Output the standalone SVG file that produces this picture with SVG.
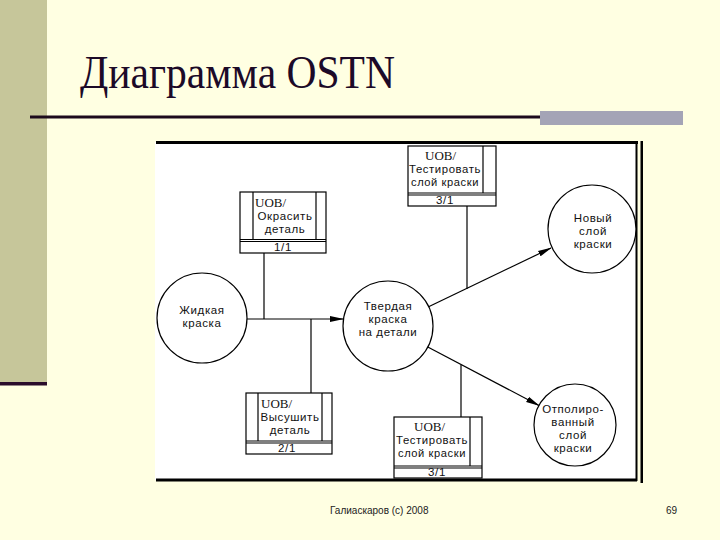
<svg xmlns="http://www.w3.org/2000/svg" width="720" height="540" viewBox="0 0 720 540">
<defs>
<marker id="ah" markerWidth="14" markerHeight="8" refX="13" refY="4" orient="auto" markerUnits="userSpaceOnUse">
<path d="M0,1 L14,4 L0,7 Z" fill="#000"/>
</marker>
<style>
.t{font-family:"Liberation Sans",Arial,sans-serif;font-size:11.5px;letter-spacing:0.6px;fill:#111;text-anchor:middle}
.u{font-family:"Liberation Serif","Times New Roman",serif;font-size:13px;fill:#111}
.box{fill:#fff;stroke:#000;stroke-width:1.2}
.ln{stroke:#000;stroke-width:1.2;fill:none}
.c{fill:#fff;stroke:#000;stroke-width:1.2}
</style>
</defs>
<rect width="720" height="540" fill="#ffffe2"/>
<rect x="0" y="0" width="47" height="382" fill="#c6c69a"/>
<rect x="0" y="382" width="47" height="3.5" fill="#2a0c2a"/>
<text x="80" y="88" font-family="'Liberation Serif','Times New Roman',serif" font-size="46" fill="#1c0a28" textLength="315" lengthAdjust="spacingAndGlyphs">Диаграмма OSTN</text>
<rect x="30" y="115.5" width="512" height="3" fill="#1c0a1c"/>
<rect x="540" y="111" width="143" height="14" fill="#a4a4b6"/>
<!-- embedded picture -->
<rect x="155" y="142" width="482" height="338" fill="#fff"/>
<rect x="156" y="141" width="482" height="3" fill="#000"/>
<rect x="156" y="478.5" width="481" height="3" fill="#000"/>
<rect x="635.5" y="141" width="2" height="340" fill="#000"/>
<rect x="640.5" y="141" width="2.5" height="342" fill="#000"/>
<g id="connectors">
<line class="ln" x1="264" y1="253" x2="264" y2="319"/>
<line class="ln" x1="247" y1="319" x2="343" y2="319" marker-end="url(#ah)"/>
<line class="ln" x1="311" y1="319" x2="311" y2="393"/>
<line class="ln" x1="467" y1="206" x2="467" y2="289"/>
<line class="ln" x1="428.6" y1="306.7" x2="551" y2="248" marker-end="url(#ah)"/>
<line class="ln" x1="427.8" y1="347" x2="539" y2="405.5" marker-end="url(#ah)"/>
<line class="ln" x1="461" y1="417" x2="461" y2="365"/>
</g>
<g id="n-zhidkaya">
<circle class="c" cx="202" cy="318" r="45"/>
<text class="t" x="202" y="314">Жидкая</text>
<text class="t" x="202" y="327">краска</text>
</g>
<g id="n-tverdaya">
<circle class="c" cx="388" cy="326" r="45"/>
<text class="t" x="388" y="310">Твердая</text>
<text class="t" x="388" y="323">краска</text>
<text class="t" x="388" y="336">на детали</text>
</g>
<g id="n-noviy">
<circle class="c" cx="592" cy="229" r="44"/>
<text class="t" x="593" y="222">Новый</text>
<text class="t" x="593" y="235">слой</text>
<text class="t" x="593" y="248">краски</text>
</g>
<g id="n-otpol">
<circle class="c" cx="575" cy="425" r="41"/>
<text class="t" x="573" y="413">Отполиро-</text>
<text class="t" x="573" y="426">ванный</text>
<text class="t" x="573" y="439">слой</text>
<text class="t" x="573" y="452">краски</text>
</g>
<g id="uob-1">
<rect class="box" x="240" y="192" width="86" height="61"/>
<line class="ln" x1="253" y1="192" x2="253" y2="239.5"/>
<line class="ln" x1="316" y1="192" x2="316" y2="239.5"/>
<line class="ln" x1="240" y1="239.5" x2="326" y2="239.5"/>
<line class="ln" x1="240" y1="241.5" x2="326" y2="241.5"/>
<text class="u" x="255" y="207">UOB/</text>
<text class="t" x="285" y="220">Окрасить</text>
<text class="t" x="285" y="233">деталь</text>
<text class="t" x="283" y="251">1/1</text>
</g>
<g id="uob-2">
<rect class="box" x="246" y="393" width="86" height="61"/>
<line class="ln" x1="258" y1="393" x2="258" y2="441"/>
<line class="ln" x1="322" y1="393" x2="322" y2="441"/>
<line class="ln" x1="246" y1="441" x2="332" y2="441"/>
<line class="ln" x1="246" y1="443" x2="332" y2="443"/>
<text class="u" x="261" y="408">UOB/</text>
<text class="t" x="290" y="421">Высушить</text>
<text class="t" x="290" y="434">деталь</text>
<text class="t" x="287" y="452">2/1</text>
</g>
<g id="uob-3a">
<rect class="box" x="408" y="146" width="88" height="60"/>
<line class="ln" x1="483" y1="146" x2="483" y2="193"/>
<line class="ln" x1="408" y1="193" x2="496" y2="193"/>
<line class="ln" x1="408" y1="195" x2="496" y2="195"/>
<text class="u" x="425" y="160">UOB/</text>
<text class="t" x="445" y="173" textLength="72" lengthAdjust="spacingAndGlyphs">Тестировать</text>
<text class="t" x="445" y="186" textLength="68" lengthAdjust="spacingAndGlyphs">слой краски</text>
<text class="t" x="445" y="204">3/1</text>
</g>
<g id="uob-3b">
<rect class="box" x="394" y="417" width="88" height="61"/>
<line class="ln" x1="470" y1="417" x2="470" y2="466"/>
<line class="ln" x1="394" y1="466" x2="482" y2="466"/>
<line class="ln" x1="394" y1="468" x2="482" y2="468"/>
<text class="u" x="414" y="431">UOB/</text>
<text class="t" x="432" y="444" textLength="72" lengthAdjust="spacingAndGlyphs">Тестировать</text>
<text class="t" x="432" y="457" textLength="68" lengthAdjust="spacingAndGlyphs">слой краски</text>
<text class="t" x="437" y="476">3/1</text>
</g>
<text x="330" y="514" font-family="'Liberation Sans',Arial,sans-serif" font-size="10" fill="#222">Галиаскаров (c) 2008</text>
<text x="666" y="514" font-family="'Liberation Sans',Arial,sans-serif" font-size="10" fill="#222">69</text>
</svg>
